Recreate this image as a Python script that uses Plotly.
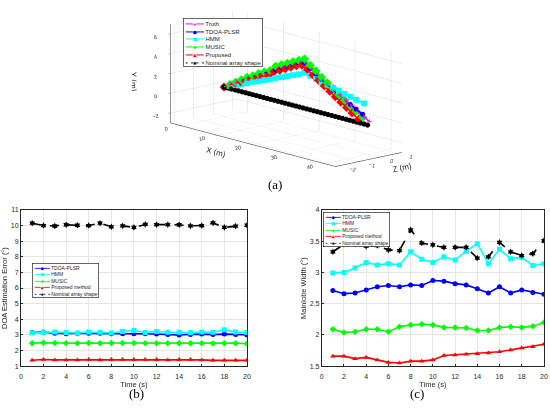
import plotly.graph_objects as go

# ---- (b) / (c) data: time axis and per-method values
time_s = [1, 2, 3, 4, 5, 6, 7, 8, 9, 10, 11, 12, 13, 14, 15, 16, 17, 18, 19, 20]

doa_tdoa = [3.15, 3.18, 3.10, 3.08, 3.10, 3.10, 3.10, 3.07, 3.07, 3.08,
            3.07, 3.06, 3.02, 3.00, 3.03, 3.05, 3.02, 3.05, 3.03, 3.00]
doa_hmm = [3.12, 3.15, 3.18, 3.15, 3.12, 3.18, 3.17, 3.12, 3.22, 3.28,
           3.15, 3.22, 3.17, 3.17, 3.13, 3.18, 3.17, 3.33, 3.18, 3.15]
doa_music = [2.47, 2.50, 2.48, 2.47, 2.47, 2.48, 2.47, 2.48, 2.48, 2.48,
             2.47, 2.47, 2.47, 2.47, 2.47, 2.47, 2.45, 2.47, 2.47, 2.43]
doa_prop = [1.38, 1.42, 1.40, 1.40, 1.40, 1.42, 1.40, 1.43, 1.42, 1.43,
            1.42, 1.42, 1.40, 1.42, 1.42, 1.40, 1.37, 1.38, 1.37, 1.37]
doa_nominal = [10.15, 10.00, 9.97, 10.05, 10.02, 10.00, 10.15, 9.92, 9.98, 9.88,
               10.07, 10.06, 10.06, 10.05, 9.98, 10.00, 10.17, 9.88, 9.96, 10.02]

mlw_tdoa = [2.71, 2.66, 2.67, 2.72, 2.77, 2.79, 2.77, 2.80, 2.79, 2.87,
            2.86, 2.82, 2.80, 2.74, 2.67, 2.77, 2.67, 2.72, 2.68, 2.65]
mlw_hmm = [2.99, 3.00, 3.07, 3.16, 3.12, 3.14, 3.12, 3.33, 3.21, 3.16,
           3.25, 3.20, 3.34, 3.46, 3.14, 3.37, 3.22, 3.24, 3.11, 3.14]
mlw_music = [2.09, 2.04, 2.05, 2.09, 2.09, 2.05, 2.13, 2.16, 2.17, 2.16,
             2.12, 2.12, 2.11, 2.07, 2.07, 2.12, 2.13, 2.12, 2.14, 2.20]
mlw_prop = [1.66, 1.66, 1.62, 1.64, 1.60, 1.56, 1.55, 1.58, 1.58, 1.60,
            1.67, 1.68, 1.69, 1.70, 1.71, 1.73, 1.76, 1.79, 1.81, 1.85]
mlw_nominal = [3.33, 3.45, 3.45, 3.42, 3.43, 3.36, 3.35, 3.68, 3.47, 3.44,
               3.40, 3.40, 3.40, 3.23, 3.25, 3.48, 3.33, 3.27, 3.30, 3.51]

# ---- (a) data: estimated array shapes (X, Y, Z in metres)
truth_x = [0, 1.7, 3.4, 5.1, 6.8, 8.5, 10.2, 11.9, 13.6, 15.3, 17.0, 18.7, 20.4,
           22.1, 23.8, 25.5, 27.2, 28.9, 30.6, 32.3, 34.0, 35.7, 37.4, 39.1, 40.5]
truth_y = [0, 0.4, 0.8, 1.1, 1.5, 1.8, 2.1, 2.4, 2.7, 3.4, 3.7, 4.0, 4.4,
           4.7, 4.3, 3.9, 3.5, 3.1, 2.7, 2.3, 1.9, 1.5, 1.1, 0.7, 0.4]

tdoa_x = [0, 1.6, 3.2, 4.8, 6.4, 8.0, 9.6, 11.2, 12.8, 14.4, 16.0, 17.6, 19.2,
          20.8, 22.4, 24.0, 25.6, 27.2, 28.8, 30.4, 32.0, 33.6, 35.2, 36.8, 38.6]
tdoa_y = [0, 0.4, 0.8, 1.2, 1.5, 1.9, 2.2, 2.5, 2.8, 3.1, 3.5, 3.8, 4.1,
          4.4, 4.6, 4.2, 3.8, 3.4, 3.0, 2.6, 2.3, 1.9, 1.6, 1.3, 0.95]

hmm_x = [0, 1.6, 3.2, 4.8, 6.4, 8.0, 9.6, 11.2, 12.8, 14.4, 16.0, 17.6, 19.2,
         20.8, 22.4, 24.0, 25.6, 27.2, 28.8, 30.4, 32.0, 33.6, 35.2, 36.8, 39.0]
hmm_y = [0, 0.25, 0.5, 0.75, 1.0, 1.3, 1.5, 1.8, 2.0, 2.3, 2.55, 2.8, 3.05,
         3.3, 3.6, 3.45, 3.3, 3.15, 3.0, 2.85, 2.7, 2.55, 2.4, 2.25, 2.1]

music_x = [0, 1.6, 3.2, 4.8, 6.4, 8.0, 9.6, 11.2, 12.8, 14.4, 16.0, 17.6, 19.2,
           20.8, 22.4, 24.0, 25.6, 27.2, 28.8, 30.4, 32.0, 33.6, 35.2, 36.8, 38.6]
music_y = [0, 0.4, 0.8, 1.2, 1.6, 1.9, 2.3, 2.6, 2.9, 3.5, 3.8, 4.1, 4.4,
           4.7, 5.0, 4.5, 4.1, 3.6, 3.2, 2.8, 2.3, 1.9, 1.5, 1.1, 0.65]

prop_x = [0, 1.55, 3.1, 4.65, 6.2, 7.75, 9.3, 10.85, 12.4, 13.95, 15.5, 17.05, 18.6,
          20.15, 21.7, 23.25, 24.8, 26.35, 27.9, 29.45, 31.0, 32.55, 34.1, 35.65, 37.5]
prop_y = [0, 0.3, 0.7, 1.0, 1.3, 1.6, 1.9, 2.2, 2.4, 2.9, 3.2, 3.5, 3.8,
          4.1, 4.3, 4.0, 3.6, 3.2, 2.8, 2.4, 2.0, 1.6, 1.2, 0.8, 0.35]

curve_z = [0, 0, 0, 0, 0, 0, 0, 0, 0, 0, 0, 0, 0,
           0, 0, 0, 0, 0, 0, 0, 0, 0, 0, 0, 0]

nominal_x = [0, 1, 2, 3, 4, 5, 6, 7, 8, 9, 10, 11, 12, 13, 14, 15, 16, 17, 18, 19, 20,
             21, 22, 23, 24, 25, 26, 27, 28, 29, 30, 31, 32, 33, 34, 35, 36, 37, 38, 39, 40]
nominal_y = [0, 0, 0, 0, 0, 0, 0, 0, 0, 0, 0, 0, 0, 0, 0, 0, 0, 0, 0, 0, 0,
             0, 0, 0, 0, 0, 0, 0, 0, 0, 0, 0, 0, 0, 0, 0, 0, 0, 0, 0, 0]
nominal_z = [0, 0, 0, 0, 0, 0, 0, 0, 0, 0, 0, 0, 0, 0, 0, 0, 0, 0, 0, 0, 0,
             0, 0, 0, 0, 0, 0, 0, 0, 0, 0, 0, 0, 0, 0, 0, 0, 0, 0, 0, 0]

FONT = "Liberation Sans"
BLUE, CYAN, GREEN, RED, MAG, BLK = "#0000ff", "#00ffff", "#00ff00", "#ff0000", "#ff00ff", "#000000"
TXT = "#262626"

fig = go.Figure()

# ---- (a) 3D shapes; plotly z is the vertical "Y (m)" axis
shapes3d = [
    ("Truth", truth_x, truth_y, curve_z, MAG, "cross", "solid", "★"),
    ("TDOA-PLSR", tdoa_x, tdoa_y, curve_z, BLUE, "circle", "solid", "●"),
    ("HMM", hmm_x, hmm_y, curve_z, CYAN, "square", "solid", "■"),
    ("MUSIC", music_x, music_y, curve_z, GREEN, "diamond", "solid", "◆"),
    ("Proposed", prop_x, prop_y, curve_z, RED, "diamond", "solid", "▲"),
    ("Nominal array shape", nominal_x, nominal_y, nominal_z, BLK, "circle", "dash", "✱"),
]
for name, xs, ys, zs, col, sym3, dash, _ in shapes3d:
    fig.add_trace(go.Scatter3d(
        x=xs, y=zs, z=ys, mode="lines+markers", name=name, showlegend=False,
        line=dict(color=col, width=3, dash=dash),
        marker=dict(color=col, size=3, symbol=sym3),
        scene="scene"))

# ---- (b) and (c)
series2d = [
    ("TDOA-PLSR", doa_tdoa, mlw_tdoa, BLUE, "circle", "solid", "●"),
    ("HMM", doa_hmm, mlw_hmm, CYAN, "square", "solid", "■"),
    ("MUSIC", doa_music, mlw_music, GREEN, "diamond", "solid", "◆"),
    ("Proposed method", doa_prop, mlw_prop, RED, "triangle-up", "solid", "▲"),
    ("Nominal array shape", doa_nominal, mlw_nominal, BLK, "hexagram", "dash", "✱"),
]
for name, yb, yc, col, sym, dash, _ in series2d:
    for ys, xa, ya in [(yb, "x", "y"), (yc, "x2", "y2")]:
        fig.add_trace(go.Scatter(
            x=time_s, y=ys, mode="lines+markers", name=name, showlegend=False,
            line=dict(color=col, width=1.6, dash=dash),
            marker=dict(color=col, size=5, symbol=sym),
            xaxis=xa, yaxis=ya))


def legend_text(entries):
    # compact MATLAB-like legend drawn as one multi-line annotation
    rows = []
    for name, col, dash, glyph in entries:
        seg = "╸╺" if dash == "dash" else "━━"
        rows.append(f'<span style="color:{col};font-family:DejaVu Sans Mono">{seg}{glyph}{seg}</span> {name}')
    return "<br>".join(rows)


leg3d = [(s[0], s[4], s[6], s[7]) for s in shapes3d]
leg2d = [(s[0], s[3], s[5], s[6]) for s in series2d]

ax_common = dict(showgrid=True, gridcolor="#e6e6e6", gridwidth=0.7,
                 showline=True, linecolor=TXT, linewidth=0.7, mirror=True,
                 ticks="inside", ticklen=2, tickcolor=TXT, automargin=False,
                 tickfont=dict(size=7, family=FONT, color=TXT),
                 zeroline=False)

scene_ax = dict(showbackground=False, gridcolor="#dcdcdc", gridwidth=1,
                showline=True, linecolor=TXT, zeroline=False,
                ticks="outside", ticklen=2,
                tickfont=dict(size=8, family=FONT, color=TXT),
                title_font=dict(size=10, family=FONT, color=TXT))

fig.update_layout(
    width=550, height=410,
    margin=dict(l=0, r=0, t=0, b=0),
    paper_bgcolor="white", plot_bgcolor="white",
    font=dict(family=FONT, size=7, color=TXT),
    showlegend=False,
    scene=dict(
        domain=dict(x=[0.24, 0.80], y=[0.56, 1.0]),
        xaxis=dict(scene_ax, title="X (m)", range=[-3, 43], tickvals=[0, 10, 20, 30, 40]),
        yaxis=dict(scene_ax, title="Z (m)", range=[-2.2, 1.2], tickvals=[-2, -1, 0, 1]),
        zaxis=dict(scene_ax, title="Y (m)", range=[-3, 7], tickvals=[-2, 0, 2, 4, 6]),
        aspectmode="manual", aspectratio=dict(x=2.75, y=0.99, z=1.13),
        camera=dict(eye=dict(x=2.2, y=-1.97, z=0.7),
                    center=dict(x=0, y=0, z=-0.02),
                    projection=dict(type="orthographic")),
    ),
    xaxis=dict(ax_common, domain=[0.038, 0.449], range=[0, 20], dtick=2, anchor="y",
               ticklabelstandoff=4,
               title=dict(text="Time (s)", font=dict(size=7.5), standoff=0)),
    yaxis=dict(ax_common, domain=[0.107, 0.488], range=[1, 11], dtick=1, anchor="x",
               title=dict(text="DOA Estimation Error (°)", font=dict(size=7.5), standoff=2)),
    xaxis2=dict(ax_common, domain=[0.585, 0.989], range=[0, 20], dtick=2, anchor="y2",
                ticklabelstandoff=4,
                title=dict(text="Time (s)", font=dict(size=7.5), standoff=0)),
    yaxis2=dict(ax_common, domain=[0.107, 0.488], range=[1.5, 4], dtick=0.5, anchor="x2",
                title=dict(text="Mainlobe Width (°)", font=dict(size=7.5), standoff=2)),
)

leg_style = dict(xref="paper", yref="paper", xanchor="left", yanchor="top",
                 showarrow=False, align="left", bgcolor="white",
                 bordercolor=TXT, borderwidth=0.7, borderpad=1,
                 font=dict(size=5, family=FONT, color=TXT))
fig.add_annotation(text=legend_text(leg3d), x=0.332, y=0.957, **dict(leg_style, font=dict(size=6, family=FONT, color=TXT)))
fig.add_annotation(text=legend_text(leg2d), x=0.058, y=0.359, **leg_style)
fig.add_annotation(text=legend_text(leg2d), x=0.587, y=0.483, **leg_style)

for txt, xp, yp in [("(a)", 0.5, 0.549), ("(b)", 0.249, 0.041), ("(c)", 0.758, 0.041)]:
    fig.add_annotation(text=txt, x=xp, y=yp, xref="paper", yref="paper",
                       xanchor="center", yanchor="middle",
                       showarrow=False, font=dict(size=13, family="Liberation Serif", color="black"))

# page body has a default 8px margin; drop it so the 550x410 figure fills the window
fig.write_html("out.html", config={"displayModeBar": False},
               post_script="document.body.style.margin='0';")
